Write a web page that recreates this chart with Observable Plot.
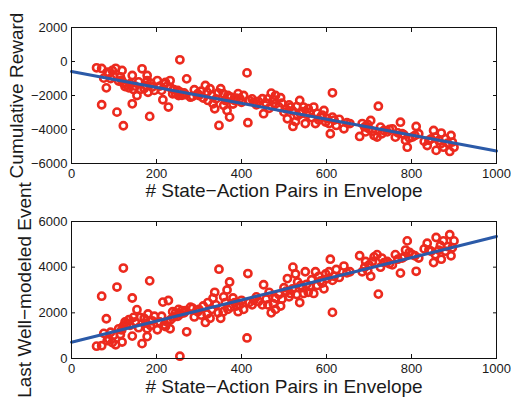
<!DOCTYPE html>
<html>
<head>
<meta charset="utf-8">
<script src="https://cdn.jsdelivr.net/npm/d3@7"></script>
<script src="https://cdn.jsdelivr.net/npm/@observablehq/plot@0.6"></script>
<style>
  body { margin: 0; background: #fff; }
  #chart { width: 511px; }
  #chart svg { display: block; overflow: visible; }
</style>
</head>
<body>
<div id="chart"></div>
<script>
// ---- data ----
const statePairs = [59,71,71,76,84,82,96,99,107,104,111,119,122,122,126,130,143,143,146,154,166,171,178,178,180,184,186,202,215,218,221,228,232,233,241,245,255,256,260,271,280,289,297,315,319,321,326,333,337,347,351,357,358,366,372,375,384,392,396,413,415,418,429,449,452,470,480,480,492,488,500,508,515,521,527,537,539,546,550,557,570,574,586,594,598,606,609,614,614,623,641,655,678,684,692,700,704,712,719,722,727,735,743,755,762,774,778,786,790,802,811,817,837,841,852,856,858,864,870,875,890,893,896,900,
  88,92,115,118,135,138,150,158,162,175,190,195,208,212,225,238,250,252,265,268,285,300,305,310,330,340,345,362,368,380,388,400,405,425,435,440,458,462,465,475,495,505,512,520,530,532,543,553,560,565,578,582,590,602,618,630,648,690,697,708,730,748,768,782,795,808,830,846,868,880,885];
const cumulativeReward = [-370,-410,-2545,-980,-630,-1550,-530,-880,-2980,-400,-1150,-530,-3780,-1260,-1470,-1380,-820,-2490,-1650,-2000,-430,-1590,-820,-1120,-1810,-3230,-1280,-1120,-2250,-1310,-1230,-2680,-1120,-1540,-1660,-1890,100,-1800,-1990,-1020,-2100,-1660,-1890,-1410,-1800,-2290,-1600,-2490,-2780,-3760,-1600,-1890,-2580,-2880,-3270,-2100,-2300,-1890,-2180,-670,-3600,-2290,-2390,-2190,-3070,-1860,-2000,-2490,-2130,-2670,-2980,-3370,-2680,-3820,-3530,-2290,-3070,-2680,-3650,-2770,-2680,-3650,-3270,-2880,-3560,-3650,-4250,-1840,-3270,-3760,-3960,-3650,-4410,-3650,-4140,-3960,-3470,-4350,-4440,-2630,-3860,-4060,-4140,-3960,-4450,-3570,-4250,-4640,-5040,-4450,-3820,-4250,-4940,-4640,-4060,-4450,-5230,-4640,-4210,-5040,-5290,-4350,-4740,-5040,
  -700,-1000,-900,-1100,-1550,-1300,-1450,-1200,-1650,-1400,-1500,-1700,-1450,-1700,-1450,-1900,-1700,-2000,-1850,-1950,-2050,-2000,-1750,-2150,-2000,-2200,-1850,-2300,-2000,-2500,-2150,-2400,-2000,-2200,-2550,-2350,-2450,-2200,-2750,-2250,-2450,-2800,-2550,-2900,-2650,-3200,-2950,-3100,-3000,-3300,-3050,-3450,-3150,-3350,-3450,-3400,-3600,-3850,-3700,-4100,-4250,-4000,-4200,-4300,-4500,-4350,-4700,-4550,-4850,-4550,-4800];
const lastWellModeledEvent = [540,560,2730,1100,780,1740,700,1020,3130,600,1300,720,3960,1420,1600,1530,980,2650,1800,2140,650,1760,960,1300,1950,3400,1440,1260,2470,1470,1400,2540,1300,1700,1820,2000,100,1950,2100,1170,2250,1820,2050,1580,1950,2450,1760,2640,2900,3910,1760,2050,2700,3000,3350,2250,2450,2050,2350,900,3720,2450,2550,2350,3230,2000,2150,2640,2300,2800,3100,3500,2850,4000,3700,2450,3200,2850,3800,2900,2850,3800,3400,3050,3700,3800,4350,2020,3420,3900,4050,3800,4500,3800,4250,4100,3600,4450,4550,2820,4000,4200,4250,4100,4550,3740,4400,4750,5150,4550,3820,4400,5050,4750,4200,4550,5300,4750,4350,5150,5420,4500,4850,5150,
  850,1150,1050,1250,1700,1450,1600,1350,1800,1550,1650,1850,1600,1850,1600,2050,1850,2150,2000,2100,2200,2150,1900,2300,2150,2350,2000,2450,2150,2650,2300,2550,2150,2350,2700,2500,2600,2350,2900,2400,2600,2950,2700,3050,2800,3350,3100,3250,3150,3450,3200,3600,3300,3500,3600,3550,3750,4000,3850,4250,4400,4150,4350,4450,4650,4500,4800,4700,4950,4700,4900];
const fitX = [0, 1000];
const rewardFit = [-590, -5270];
const eventFit = [715, 5345];
const xTicks = [0, 200, 400, 600, 800, 1000];
const rewardTicks = [-6000, -4000, -2000, 0, 2000];
const eventTicks = [0, 2000, 4000, 6000];
const xLabel = "# State\u2212Action Pairs in Envelope";
const rewardLabel = "Cumulative Reward";
const eventLabel = "Last Well\u2212modeled Event";

// ---- build ----
const points = statePairs.map((x, i) => ({x, reward: cumulativeReward[i], event: lastWellModeledEvent[i]}));
const fitLine = fitX.map((x, i) => ({x, reward: rewardFit[i], event: eventFit[i]}));
const FONT = "'Liberation Sans', Arial, Helvetica, sans-serif";
const RED = "#ec2a1e";
const BLUE = "#2b5aa8";
const fmt = d => String(d).replace("-", "\u2212");

function panel({key, yDomain, yTicks, yLabel, height, marginTop, marginBottom, yLabelDx, xLabelDy}) {
  return Plot.plot({
    width: 511,
    height,
    marginLeft: 71,
    marginRight: 15,
    marginTop,
    marginBottom,
    style: {fontFamily: FONT, overflow: "visible", color: "#1a1a1a"},
    x: {domain: [0, 1000]},
    y: {domain: yDomain},
    marks: [
      Plot.dot(points, {x: "x", y: key, r: 3.6, stroke: RED, strokeWidth: 2.6, fill: "none"}),
      Plot.line(fitLine, {x: "x", y: key, stroke: BLUE, strokeWidth: 3}),
      Plot.frame({stroke: "#111", strokeWidth: 1}),
      Plot.axisX({anchor: "bottom", ticks: xTicks, tickSize: -4, tickPadding: 9, tickFormat: fmt, label: null, fontSize: 13, stroke: "#111"}),
      Plot.axisX({anchor: "top", ticks: xTicks, tickSize: -4, tickFormat: () => "", label: null, stroke: "#111"}),
      Plot.axisY({anchor: "left", ticks: yTicks, tickSize: -4, tickPadding: 8, tickFormat: fmt, label: null, fontSize: 13, stroke: "#111"}),
      Plot.axisY({anchor: "right", ticks: yTicks, tickSize: -4, tickFormat: () => "", label: null, stroke: "#111"}),
      Plot.text([xLabel], {text: d => d, frameAnchor: "bottom", dy: xLabelDy, textAnchor: "middle", lineAnchor: "top", fontSize: 19, fill: "#1a1a1a"}),
      Plot.text([yLabel], {text: d => d, frameAnchor: "left", dx: yLabelDx, rotate: -90, textAnchor: "middle", lineAnchor: "middle", fontSize: 19, fill: "#1a1a1a"})
    ]
  });
}

const chart = document.getElementById("chart");
chart.append(panel({key: "reward", yDomain: [-6000, 2000], yTicks: rewardTicks, yLabel: rewardLabel, height: 198, marginTop: 27, marginBottom: 35, yLabelDx: -55, xLabelDy: 20}));
chart.append(panel({key: "event", yDomain: [0, 6000], yTicks: eventTicks, yLabel: eventLabel, height: 199, marginTop: 23, marginBottom: 39, yLabelDx: -47, xLabelDy: 21}));
</script>
</body>
</html>
